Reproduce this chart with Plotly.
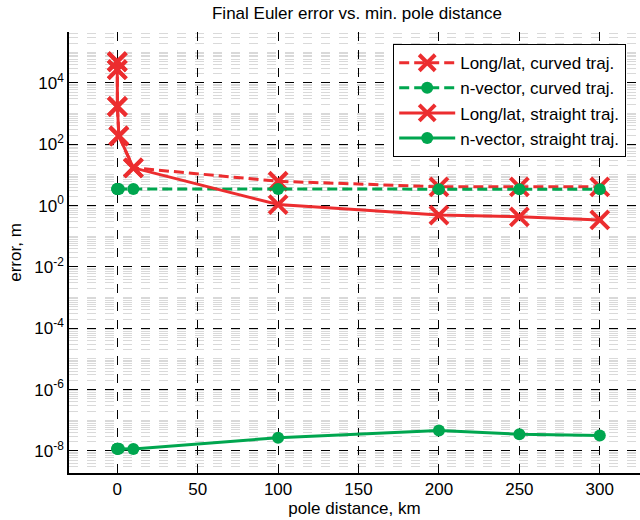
import plotly.graph_objects as go

# pole distance, km (tiny distances all plot at ~0)
dist = [0.001, 0.01, 0.1, 1, 10, 100, 200, 250, 300]

longlat_curved = [4.9e4, 2.7e4, 1.7e3, 186, 17, 6.2, 4.1, 4.1, 4.1]
nvec_curved = [3.5, 3.5, 3.5, 3.5, 3.5, 3.5, 3.4, 3.4, 3.4]
longlat_straight = [4.9e4, 2.7e4, 1.7e3, 186, 17, 1.08, 0.49, 0.43, 0.34]
nvec_straight = [1.17e-8, 1.17e-8, 1.17e-8, 1.17e-8, 1.15e-8, 2.7e-8, 4.6e-8, 3.5e-8, 3.2e-8]

x_ticks = [0, 50, 100, 150, 200, 250, 300]
y_exps = [-8, -6, -4, -2, 0, 2, 4]
y_ticks = [10.0 ** e for e in y_exps]
y_ticktext = ["10<sup>%d</sup>" % e for e in y_exps]

RED = "#ec2d2f"
GREEN = "#00a64f"
FONT = "Liberation Sans"
FS = 17

fig = go.Figure()

def add(y, name, color, dash, symbol):
    if symbol == "x":
        marker = dict(symbol="x-thin-open", size=18, color=color,
                      line=dict(width=4, color=color))
    else:
        marker = dict(symbol="circle", size=12, color=color,
                      line=dict(width=0))
    fig.add_trace(go.Scatter(x=dist, y=y, name=name, mode="lines+markers",
                             line=dict(color=color, width=3, dash=dash),
                             marker=marker))

add(longlat_curved, "Long/lat, curved traj.", RED, "10px,5px", "x")
add(nvec_curved, "n-vector, curved traj.", GREEN, "10px,5px", "o")
add(longlat_straight, "Long/lat, straight traj.", RED, "solid", "x")
add(nvec_straight, "n-vector, straight traj.", GREEN, "solid", "o")

PL, PR, PT, PB = 69, 640, 32, 473
pw, ph = PR - PL, PB - PT

fig.update_layout(
    width=640, height=520,
    margin=dict(l=PL, r=640 - PR, t=PT, b=520 - PB, autoexpand=False),
    paper_bgcolor="white", plot_bgcolor="white",
    font=dict(family=FONT, size=FS, color="black"),
    title=dict(text="Final Euler error vs. min. pole distance", x=(357 / 640), xref="container",
               xanchor="center", y=1 - 13 / 520, yanchor="middle",
               font=dict(family=FONT, size=FS, color="black")),
    showlegend=True,
    legend=dict(x=(393 - PL) / pw, xanchor="left", y=1 - (44 - PT) / ph, yanchor="top",
                bgcolor="white", bordercolor="black", borderwidth=1.2,
                font=dict(family=FONT, size=FS, color="black"),
                itemwidth=56, tracegroupgap=0),
    xaxis=dict(range=[-30, 325], tickvals=x_ticks, ticktext=[str(v) for v in x_ticks],
               showgrid=True, gridcolor="black", griddash="dash", gridwidth=1,
               zeroline=False, showline=True, linecolor="black", linewidth=1.5,
               ticks="", automargin=False,
               tickfont=dict(family=FONT, size=FS, color="black"),
               title=dict(text="pole distance, km", font=dict(family=FONT, size=FS), standoff=2)),
    yaxis=dict(type="log", range=[-8.72, 5.66], tickvals=y_ticks, ticktext=y_ticktext,
               showgrid=True, gridcolor="black", griddash="dash", gridwidth=1,
               zeroline=False, showline=True, linecolor="black", linewidth=1.5,
               ticks="", automargin=False,
               tickfont=dict(family=FONT, size=FS, color="black"),
               minor=dict(tickmode="linear", dtick="D1", showgrid=True, gridcolor="#d9d9d9",
                          griddash="dash", gridwidth=1),
               title=dict(text="error, m", font=dict(family=FONT, size=FS), standoff=8)),
)

fig.write_html("out.html", config={"displayModeBar": False},
               post_script="document.body.style.margin='0';document.body.style.overflow='hidden';")
